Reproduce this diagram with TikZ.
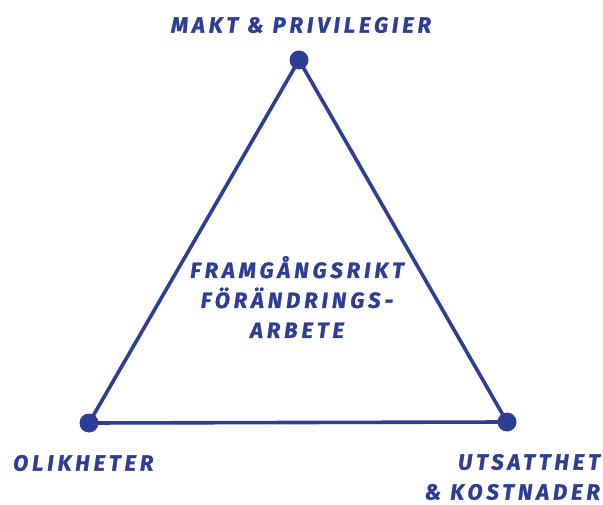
\documentclass[tikz,border=0pt]{standalone}
\usepackage{fontspec}
\setmainfont{Fira Sans}
\newfontfamily\handfont[LetterSpace=18,BoldItalicFeatures={FakeBold=1.2}]{Fira Sans}
\usepackage{tikz}
\definecolor{inkblue}{HTML}{2E3D96}

\begin{document}
\begin{tikzpicture}[x=1pt,y=-1pt,
            corner/.style={circle,fill=inkblue,inner sep=0pt,minimum size=19pt},
            side/.style={draw=inkblue,line width=3.6pt,line join=round},
            label/.style={font=\handfont\bfseries\itshape\fontsize{22}{30}\selectfont,
                text=inkblue,inner sep=0pt}]
            \useasboundingbox (0,0) rectangle (603,505);
            % corners of the triangle
            \node[corner] (makt) at (299,60) {};
            \node[corner] (olik) at (89,423) {};
            \node[corner] (utsatt) at (507,422) {};

            \draw[side] (makt.center) -- (olik.center) -- (utsatt.center) -- cycle;

            % texts
            \node[label] (maktText) at (301,25) {MAKT \& PRIVILEGIER};
            \node[label,anchor=west] (olikText) at (13,463) {OLIKHETER};
            \node[label,align=right,anchor=east] (utsattText) at (600,477)
                {UTSATTHET\\\& KOSTNADER};
            \node[label,align=center] (mitt) at (297,297)
                {FRAMGÅNGSRIKT\\FÖRÄNDRINGS-\\ARBETE};
\end{tikzpicture}
\end{document}
